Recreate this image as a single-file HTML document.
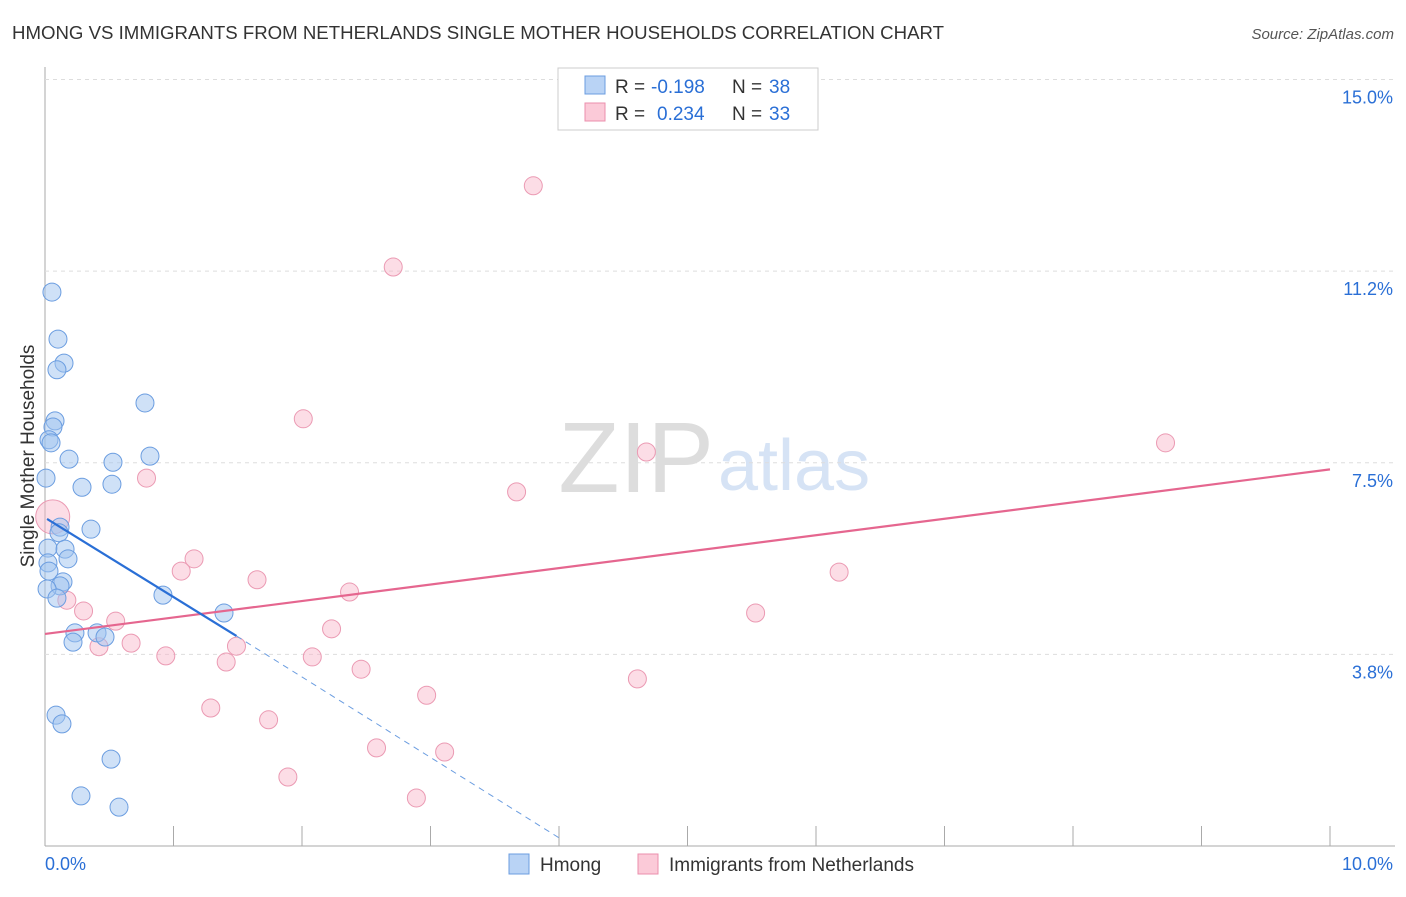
<!DOCTYPE html>
<html><head><meta charset="utf-8"><style>
body{margin:0;background:#fff;font-family:"Liberation Sans",sans-serif}
svg text{font-family:"Liberation Sans",sans-serif}
</style></head><body>
<svg id="c" width="1406" height="892" xmlns="http://www.w3.org/2000/svg">
<text x="12" y="39" font-size="18" fill="#333" textLength="932" lengthAdjust="spacingAndGlyphs">HMONG VS IMMIGRANTS FROM NETHERLANDS SINGLE MOTHER HOUSEHOLDS CORRELATION CHART</text>
<text x="1394" y="39" font-size="15" fill="#555" font-style="italic" text-anchor="end">Source: ZipAtlas.com</text>
<text x="714" y="492" font-size="100" fill="#ddd" text-anchor="end" font-family="Liberation Serif">ZIP</text>
<text x="718" y="490" font-size="72" fill="#d6e3f5">atlas</text>
<text transform="translate(34,456) rotate(-90)" font-size="19" fill="#333" text-anchor="middle">Single Mother Households</text>
<g id="grid"></g><g id="marks"></g>
<g>
<rect x="558" y="68" width="260" height="62" fill="#fff" stroke="#ccc"/>
<rect x="585" y="76" width="20" height="18" fill="#b9d3f5" stroke="#6b9de0"/>
<rect x="585" y="103" width="20" height="18" fill="#fbcad8" stroke="#eb8fac"/>
<text x="615" y="93" font-size="19" fill="#333">R =</text>
<text x="651" y="93" font-size="19" fill="#2a6fd6">-0.198</text>
<text x="732" y="93" font-size="19" fill="#333">N =</text>
<text x="769" y="93" font-size="19" fill="#2a6fd6">38</text>
<text x="615" y="120" font-size="19" fill="#333">R =</text>
<text x="657" y="120" font-size="19" fill="#2a6fd6">0.234</text>
<text x="732" y="120" font-size="19" fill="#333">N =</text>
<text x="769" y="120" font-size="19" fill="#2a6fd6">33</text>
</g>
<g>
<rect x="509" y="854" width="20" height="20" fill="#b9d3f5" stroke="#6b9de0"/>
<text x="540" y="871" font-size="19" fill="#333">Hmong</text>
<rect x="638" y="854" width="20" height="20" fill="#fbcad8" stroke="#eb8fac"/>
<text x="669" y="871" font-size="19" fill="#333">Immigrants from Netherlands</text>
</g>
</svg>
<script>
const yTicks=[3.75,7.5,11.25,15];
const yTickLabels=["3.8%","7.5%","11.2%","15.0%"];
const xTickLabels=["0.0%","10.0%"];
const hmongX=[0.054,0.101,0.148,0.093,0.078,0.062,0.031,0.047,0.187,0.529,0.817,0.778,0.008,0.288,0.521,0.358,0.117,0.109,0.023,0.156,0.179,0.023,0.031,0.140,0.117,0.016,0.093,0.918,1.393,0.233,0.218,0.405,0.467,0.086,0.132,0.514,0.280,0.576];
const hmongY=[10.84,9.92,9.45,9.32,8.32,8.20,7.95,7.89,7.57,7.51,7.63,8.67,7.20,7.02,7.08,6.20,6.24,6.13,5.83,5.81,5.62,5.54,5.38,5.17,5.09,5.03,4.85,4.91,4.56,4.17,3.99,4.17,4.09,2.56,2.39,1.70,0.98,0.76];
const nethX=[3.80,2.71,2.01,0.79,4.68,8.72,3.67,0.06,1.16,1.06,1.65,6.18,2.37,0.17,0.30,0.55,5.53,2.23,0.42,0.67,0.94,1.41,1.49,2.08,2.46,4.61,2.97,1.29,1.74,2.58,3.11,1.89,2.89];
const nethY=[12.92,11.33,8.36,7.20,7.71,7.89,6.93,6.44,5.62,5.38,5.21,5.36,4.97,4.81,4.60,4.40,4.56,4.25,3.90,3.97,3.72,3.60,3.91,3.70,3.46,3.27,2.95,2.70,2.47,1.92,1.84,1.35,0.94];
const nethR=[9,9,9,9,9,9,9,17,9,9,9,9,9,9,9,9,9,9,9,9,9,9,9,9,9,9,9,9,9,9,9,9,9];
const hmongTrend=[[0.016,6.40],[1.49,4.11],[4.0,0.16]];
const nethTrend=[[0,4.15],[10,7.37]];
const NS="http://www.w3.org/2000/svg";
const sx=v=>45+v*128.5, sy=v=>846-v*51.1;
function mk(t,a,p){const e=document.createElementNS(NS,t);for(const k in a)e.setAttribute(k,a[k]);p.appendChild(e);return e;}
const g=document.getElementById('grid'),m=document.getElementById('marks');
mk('line',{x1:45,y1:67,x2:45,y2:846,stroke:'#aaa'},g);
mk('line',{x1:45,y1:846,x2:1395,y2:846,stroke:'#aaa'},g);
yTicks.forEach((t,i)=>{
 const l=mk('line',{x1:45,y1:sy(t),x2:1395,y2:sy(t),stroke:'#ddd','stroke-dasharray':'4,4'},g);
 
 
 const tx=mk('text',{x:1393,y:sy(t)+24,'font-size':18,fill:'#2a6fd6','text-anchor':'end'},g);
 tx.textContent=yTickLabels[i];
 
 
});
for(let i=1;i<=10;i++){const l=mk('line',{x1:sx(i),y1:826,x2:sx(i),y2:846,stroke:'#aaa'},g);
 
 }
[[0,'start',45],[1,'end',1393]].forEach(([i,a,x])=>{const t=mk('text',{x:x,y:870,'font-size':18,fill:'#2a6fd6','text-anchor':a},g);t.textContent=xTickLabels[i];
 
 });
nethX.forEach((x,i)=>{const c=mk('circle',{cx:sx(x),cy:sy(nethY[i]),r:nethR[i],fill:'rgba(248,180,200,0.45)',stroke:'#eb9ab3','stroke-width':1},m);
 
 });
hmongX.forEach((x,i)=>{const c=mk('circle',{cx:sx(x),cy:sy(hmongY[i]),r:9,fill:'rgba(160,195,240,0.5)',stroke:'#6b9de0','stroke-width':1},m);
 
 });
let l=mk('line',{x1:sx(nethTrend[0][0]),y1:sy(nethTrend[0][1]),x2:sx(nethTrend[1][0]),y2:sy(nethTrend[1][1]),stroke:'#e5668f','stroke-width':2.2},m);


l=mk('line',{x1:sx(hmongTrend[0][0]),y1:sy(hmongTrend[0][1]),x2:sx(hmongTrend[1][0]),y2:sy(hmongTrend[1][1]),stroke:'#2a6fd6','stroke-width':2.2},m);


l=mk('line',{x1:sx(hmongTrend[1][0]),y1:sy(hmongTrend[1][1]),x2:sx(hmongTrend[2][0]),y2:sy(hmongTrend[2][1]),stroke:'#6b9de0','stroke-width':1,'stroke-dasharray':'6,5'},m);


</script>
</body></html>
